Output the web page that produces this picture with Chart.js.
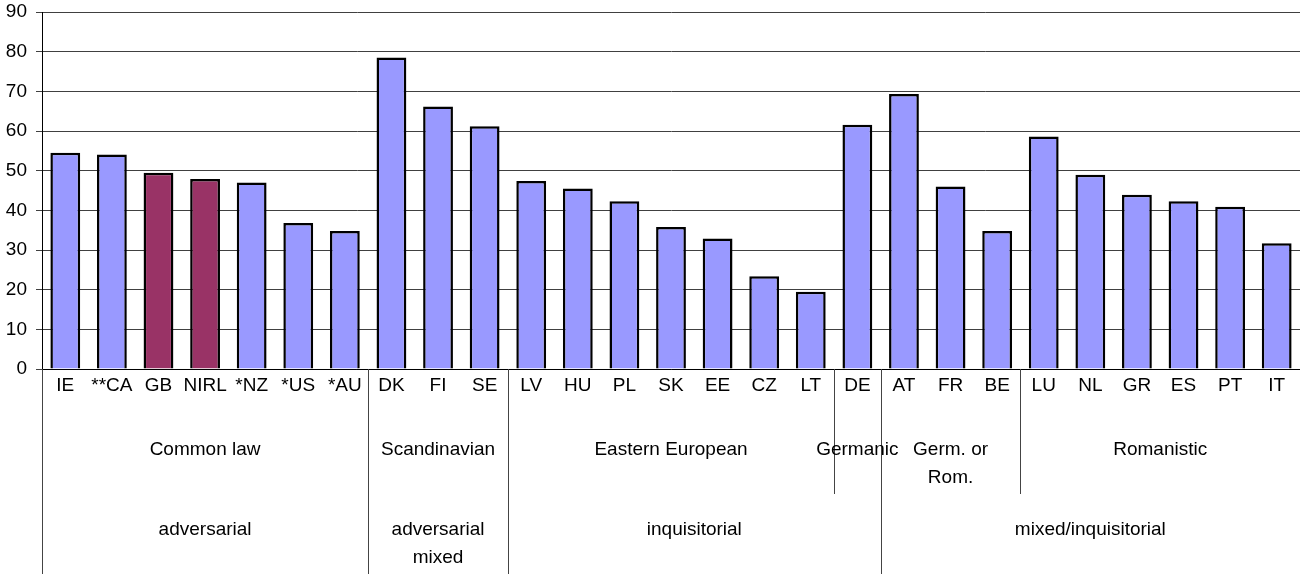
<!DOCTYPE html>
<html>
<head>
<meta charset="utf-8">
<script src="https://cdn.jsdelivr.net/npm/chart.js@4/dist/chart.umd.min.js"></script>
<style>
    body { margin: 0; background: #fff; }
    #wrap { width: 1300px; height: 574px; }
</style>
</head>
<body>
<div id="wrap"><canvas id="chart" width="1300" height="574"></canvas></div>
<script>
// ===========================
// Data
// ===========================
const countries = ['IE', '**CA', 'GB', 'NIRL', '*NZ', '*US', '*AU', 'DK', 'FI', 'SE',
    'LV', 'HU', 'PL', 'SK', 'EE', 'CZ', 'LT', 'DE', 'AT', 'FR', 'BE',
    'LU', 'NL', 'GR', 'ES', 'PT', 'IT'];
const values = [54.5, 54.1, 49.5, 47.9, 47.0, 36.8, 34.8, 78.5, 66.2, 61.2,
    47.4, 45.5, 42.3, 35.8, 32.9, 23.4, 19.5, 61.6, 69.3, 46.0, 34.8,
    58.6, 49.0, 43.9, 42.3, 40.9, 31.7];
const highlighted = ['GB', 'NIRL'];

// legal families (first index, last index)
const families = [
    { label: 'Common law', from: 0, to: 6 },
    { label: 'Scandinavian', from: 7, to: 9 },
    { label: 'Eastern European', from: 10, to: 16 },
    { label: 'Germanic', from: 17, to: 17 },
    { label: 'Germ. or\nRom.', from: 18, to: 20 },
    { label: 'Romanistic', from: 21, to: 26 }
];
// procedure type
const procedures = [
    { label: 'adversarial', from: 0, to: 6 },
    { label: 'adversarial\nmixed', from: 7, to: 9 },
    { label: 'inquisitorial', from: 10, to: 17 },
    { label: 'mixed/inquisitorial', from: 18, to: 26 }
];

const FONT = '"Liberation Sans", Arial, sans-serif';

// ===========================
// Plugin: grouped labels under the axis
// ===========================
const groupLabels = {
    id: 'groupLabels',
    afterDraw(chart) {
        const c = chart.ctx;
        const x = chart.scales.x;
        const bottom = chart.chartArea.bottom;
        const half = (x.getPixelForValue(1) - x.getPixelForValue(0)) / 2;
        const edge = i => x.getPixelForValue(i) - half;

        c.save();
        c.strokeStyle = '#444';
        c.lineWidth = 1;
        // long separators (procedure level)
        procedures.forEach(g => {
            const px = Math.round(edge(g.from)) + 0.5;
            c.beginPath();
            c.moveTo(px, bottom);
            c.lineTo(px, chart.height);
            c.stroke();
        });
        // short separators (family level)
        families.forEach(g => {
            if (procedures.some(p => p.from === g.from)) return;
            const px = Math.round(edge(g.from)) + 0.5;
            c.beginPath();
            c.moveTo(px, bottom);
            c.lineTo(px, bottom + 125);
            c.stroke();
        });

        c.fillStyle = '#000';
        c.font = '19px ' + FONT;
        c.textAlign = 'center';
        c.textBaseline = 'middle';
        const drawRow = (groups, y) => {
            groups.forEach(g => {
                const cx = (edge(g.from) + edge(g.to + 1)) / 2;
                g.label.split('\n').forEach((line, k) => {
                    c.fillText(line, cx, y + k * 28);
                });
            });
        };
        drawRow(families, bottom + 81);
        drawRow(procedures, bottom + 161);
        c.restore();
    }
};

// ===========================
// Chart
// ===========================
const ctx = document.getElementById('chart').getContext('2d');
const chart = new Chart(ctx, {
    type: 'bar',
    data: {
        labels: countries,
        datasets: [{
            data: values,
            backgroundColor: countries.map(c => highlighted.includes(c) ? '#993366' : '#9999ff'),
            borderColor: '#000',
            borderWidth: 2.5,
            barPercentage: 0.64,
            categoryPercentage: 1
        }]
    },
    options: {
        responsive: false,
        animation: false,
        layout: { padding: { top: 12, right: 0, left: 0, bottom: 0 } },
        plugins: {
            legend: { display: false },
            tooltip: { enabled: false }
        },
        scales: {
            x: {
                grid: { display: false, drawTicks: false, tickLength: 0 },
                border: { color: '#000', width: 1 },
                ticks: {
                    color: '#000',
                    font: { family: FONT, size: 19 },
                    padding: 5,
                    maxRotation: 0,
                    autoSkip: false
                },
                afterFit: s => { s.height = 205; }
            },
            y: {
                min: 0,
                max: 90,
                ticks: {
                    stepSize: 10,
                    color: '#000',
                    font: { family: FONT, size: 19 },
                    padding: 9
                },
                grid: { color: '#404040', tickLength: 6 },
                border: { color: '#000', width: 1 },
                afterFit: s => {
                    s.width = 42;
                    s.paddingTop = 0;
                    s.paddingBottom = 0;
                }
            }
        }
    },
    plugins: [groupLabels]
});
</script>
</body>
</html>
